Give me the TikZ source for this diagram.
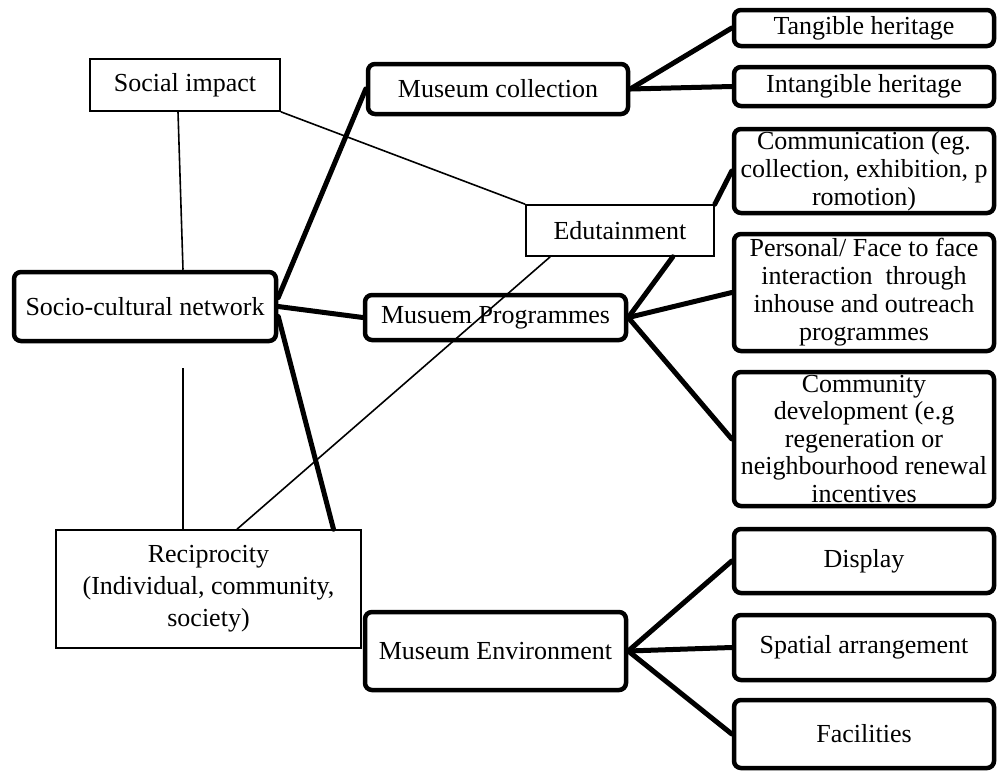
\documentclass[tikz,border=0pt]{standalone}
\usepackage{fontspec}
\setmainfont{Liberation Serif}
\usetikzlibrary{calc}
\begin{document}
\begin{tikzpicture}[x=1pt,y=-1pt,
  txt/.style={inner sep=0pt, align=center, font=\fontsize{26}{28}\selectfont},
  thinbox/.style={txt, draw, line width=1.6pt},
  thickbox/.style={txt, draw, line width=4.5pt, rounded corners=7pt},
  thinline/.style={line width=1.6pt},
  thickline/.style={line width=5pt, line cap=round},
]
\useasboundingbox[fill=white] (0,0) rectangle (997,772);

% left and middle nodes
\node[thinbox, minimum width=190pt, minimum height=52pt] (soc) at (185,85) {Social impact};
\node[thickbox, minimum width=262pt, minimum height=69pt] (scn) at (145,306.5) {Socio-cultural network};
\node[thinbox, minimum width=305pt, minimum height=118pt, font=\fontsize{26}{32}\selectfont] (rec) at (208.5,589) {Reciprocity\\(Individual, community,\\society)};
\node[thickbox, minimum width=260pt, minimum height=50pt] (mc) at (498,89) {Museum collection};
\node[thickbox, minimum width=261pt, minimum height=45pt] (mp) at (495.5,317.5) {Musuem Programmes};
\node[thinbox, minimum width=188pt, minimum height=51pt] (edu) at (620,230.5) {Edutainment};
\node[thickbox, minimum width=261pt, minimum height=78pt] (me) at (495.5,651) {Museum Environment};

% right column
\node[thickbox, minimum width=260pt, minimum height=36pt] (th) at (864,28) {Tangible heritage};
\node[thickbox, minimum width=260pt, minimum height=39pt] (ih) at (864,86.5) {Intangible heritage};
\node[thickbox, minimum width=260pt, minimum height=84pt] (com) at (864,171) {Communication (eg.\\collection, exhibition, p\\romotion)};
\node[thickbox, minimum width=260pt, minimum height=117pt] (per) at (864,292.5) {Personal/ Face to face\\interaction\ \ through\\inhouse and outreach\\programmes};
\node[thickbox, minimum width=260pt, minimum height=134pt, font=\fontsize{26}{27.5}\selectfont] (cd) at (864,439) {Community\\development (e.g\\regeneration or\\neighbourhood renewal\\incentives};
\node[thickbox, minimum width=260pt, minimum height=64pt] (dis) at (864,561) {Display};
\node[thickbox, minimum width=260pt, minimum height=65pt] (sa) at (864,647.5) {Spatial arrangement};
\node[thickbox, minimum width=260pt, minimum height=68pt] (fac) at (864,734) {Facilities};

% thin connectors
\draw[thinline] ([xshift=-7pt]soc.south) -- ([xshift=38pt]scn.north);
\draw[thinline] (soc.south east) -- (edu.north west);
\coordinate (gap) at (183,368);
\draw[thinline] (gap) -- ([xshift=-25.5pt]rec.north);
\draw[thinline] ([xshift=25pt]edu.south west) -- ([xshift=28.5pt]rec.north);

% thick connectors
\draw[thickline] ([yshift=9pt]scn.east) -- (mc.west);
\draw[thickline] (scn.east) -- (mp.west);
\draw[thickline] ([yshift=-10pt]scn.east) -- ([xshift=125pt]rec.north);
\draw[thickline] ([xshift=-42pt]edu.south east) -- (mp.east);
\draw[thickline] (edu.north east) -- (com.west);
\draw[thickline] (mc.east) -- (th.west);
\draw[thickline] (mc.east) -- (ih.west);
\draw[thickline] (mp.east) -- (per.west);
\draw[thickline] (mp.east) -- (cd.west);
\draw[thickline] (me.east) -- (dis.west);
\draw[thickline] (me.east) -- (sa.west);
\draw[thickline] (me.east) -- (fac.west);
\end{tikzpicture}
\end{document}
